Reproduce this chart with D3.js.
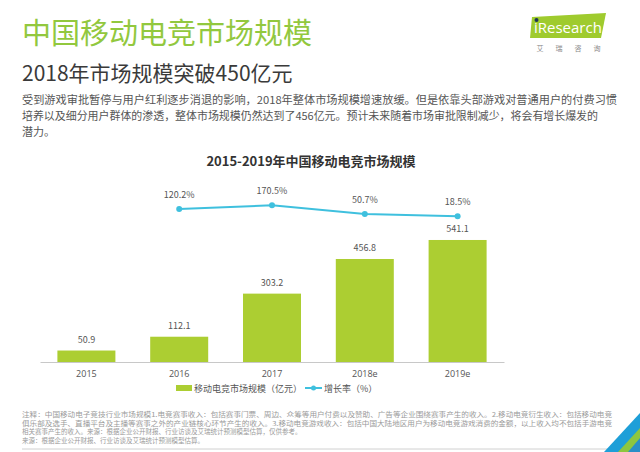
<!DOCTYPE html>
<html><head><meta charset="utf-8">
<script src="https://cdn.jsdelivr.net/npm/d3@7"></script>
<style>
body{margin:0;background:#fff;}
svg{display:block;font-family:"Noto Sans CJK SC","Noto Sans",sans-serif;}
</style></head>
<body>
<svg id="c" width="640" height="452"></svg>
<script>
const categories = ["2015","2016","2017","2018e","2019e"];
const marketSize = [50.9,112.1,303.2,456.8,541.1];
const growthRate = [null,120.2,170.5,50.7,18.5];
const growthLabels = ["","120.2%","170.5%","50.7%","18.5%"];
const seriesNames = ["移动电竞市场规模（亿元）","增长率（%）"];

const svg = d3.select("#c");
const barColor = "#acce32", lineColor = "#3fc0de";

// Header
svg.append("text").attr("x",22).attr("y",44).attr("font-size",29).attr("fill","#92c83e")
  .text("中国移动电竞市场规模");
svg.append("text").attr("x",22).attr("y",81).attr("font-size",21).attr("fill","#3a3a3a")
  .text("2018年市场规模突破450亿元");
const para = [
 "受到游戏审批暂停与用户红利逐步消退的影响，2018年整体市场规模增速放缓。但是依靠头部游戏对普通用户的付费习惯",
 "培养以及细分用户群体的渗透，整体市场规模仍然达到了456亿元。预计未来随着市场审批限制减少，将会有增长爆发的",
 "潜力。"];
const pw=[595,576,null];
para.forEach((t,i)=>{
  const s=svg.append("text").attr("x",22).attr("y",104+i*16).attr("font-size",11).attr("fill","#555").text(t);
  if(pw[i]) s.attr("textLength",pw[i]).attr("lengthAdjust","spacingAndGlyphs");
});

// logo
const lg = svg.append("g");
lg.append("polygon").attr("points","532,17 606,13 601,38 530,38").attr("fill","#9fcb2e");
lg.append("text").attr("x",534).attr("y",33).attr("font-size",15).attr("fill","#fff")
  .attr("font-family","Open Sans, sans-serif").text("iResearch");
lg.append("circle").attr("cx",536.5).attr("cy",20).attr("r",2).attr("fill","#1d3557");
["艾","瑞","咨","询"].forEach((c,i)=>lg.append("text").attr("x",540+i*19).attr("y",51)
  .attr("font-size",7).attr("fill","#888").attr("text-anchor","middle").text(c));

// chart title
svg.append("text").attr("x",311).attr("y",166).attr("text-anchor","middle").attr("font-size",13)
  .attr("font-weight","bold").attr("fill","#333").text("2015-2019年中国移动电竞市场规模");

// scales
const x = d3.scaleBand().domain(categories).range([40,504]).paddingInner(0.375).paddingOuter(0.1875);
const y = d3.scaleLinear().domain([0,600]).range([362,362-600*0.2255]);
const y2 = d3.scaleLinear().domain([0,200]).range([217.6,217.6-200*0.0724]);

svg.selectAll("rect.bar").data(marketSize).enter().append("rect")
  .attr("x",(d,i)=>x(categories[i])).attr("width",x.bandwidth())
  .attr("y",d=>y(d)).attr("height",d=>y(0)-y(d)).attr("fill",barColor);
svg.selectAll("text.bl").data(marketSize).enter().append("text")
  .attr("x",(d,i)=>x(categories[i])+x.bandwidth()/2).attr("y",d=>y(d)-8)
  .attr("text-anchor","middle").attr("font-size",9).attr("fill","#555").text(d=>d.toFixed(1));

// axis
const ax = svg.append("g").attr("transform","translate(0,362)")
  .call(d3.axisBottom(x).tickSize(0).tickPadding(9));
ax.select(".domain").attr("stroke","#c8c8c8");
ax.selectAll("text").attr("font-size",9).attr("fill","#555").attr("font-family","Open Sans, sans-serif");

// line
const pts = growthRate.map((v,i)=>({v,i})).filter(d=>d.v!=null);
const line = d3.line().x(d=>x(categories[d.i])+x.bandwidth()/2).y(d=>y2(d.v));
svg.append("path").datum(pts).attr("d",line).attr("fill","none").attr("stroke",lineColor).attr("stroke-width",2);
svg.selectAll("circle.pt").data(pts).enter().append("circle")
  .attr("cx",d=>x(categories[d.i])+x.bandwidth()/2).attr("cy",d=>y2(d.v)).attr("r",3).attr("fill",lineColor);
svg.selectAll("text.pl").data(pts).enter().append("text")
  .attr("x",d=>x(categories[d.i])+x.bandwidth()/2).attr("y",d=>y2(d.v)-11)
  .attr("text-anchor","middle").attr("font-size",9).attr("fill","#555").text(d=>growthLabels[d.i]);

// legend
const leg = svg.append("g");
leg.append("rect").attr("x",176).attr("y",385).attr("width",16).attr("height",6).attr("fill",barColor);
leg.append("text").attr("x",194).attr("y",391.5).attr("font-size",9).attr("fill","#555").text(seriesNames[0]);
leg.append("line").attr("x1",305).attr("x2",322).attr("y1",388).attr("y2",388).attr("stroke",lineColor).attr("stroke-width",2);
leg.append("circle").attr("cx",313.5).attr("cy",388).attr("r",2.5).attr("fill",lineColor);
leg.append("text").attr("x",324).attr("y",391.5).attr("font-size",9).attr("fill","#555").text(seriesNames[1]);

// footnote
const notes = [
 "注释：中国移动电子竞技行业市场规模1.电竞赛事收入：包括赛事门票、周边、众筹等用户付费以及赞助、广告等企业围绕赛事产生的收入。2.移动电竞衍生收入：包括移动电竞",
 "俱乐部及选手、直播平台及主播等赛事之外的产业链核心环节产生的收入。3.移动电竞游戏收入：包括中国大陆地区用户为移动电竞游戏消费的金额，以上收入均不包括手游电竞",
 "相关赛事产生的收入。来源：根据企业公开财报、行业访谈及艾瑞统计预测模型估算，仅供参考。",
 "来源：根据企业公开财报、行业访谈及艾瑞统计预测模型估算。"];
const nw=[590,590,null,null];
notes.forEach((t,i)=>{
  const s=svg.append("text").attr("x",22).attr("y",417+i*8.7).attr("font-size",6.5).attr("fill","#9a9a9a").text(t);
  if(nw[i]) s.attr("textLength",nw[i]).attr("lengthAdjust","spacingAndGlyphs");
});
svg.append("line").attr("x1",22).attr("x2",612).attr("y1",449).attr("y2",449).attr("stroke","#d0d0d0").attr("stroke-width",1);

// corner decoration
svg.append("polygon").attr("points","640,413 640,452 604,452").attr("fill","#1e9fd8");
svg.append("polygon").attr("points","640,428 640,452 618,452").attr("fill","#8dc63f");
svg.append("polygon").attr("points","640,438 640,452 628,452").attr("fill","#2a8fc7");
</script>
</body></html>
